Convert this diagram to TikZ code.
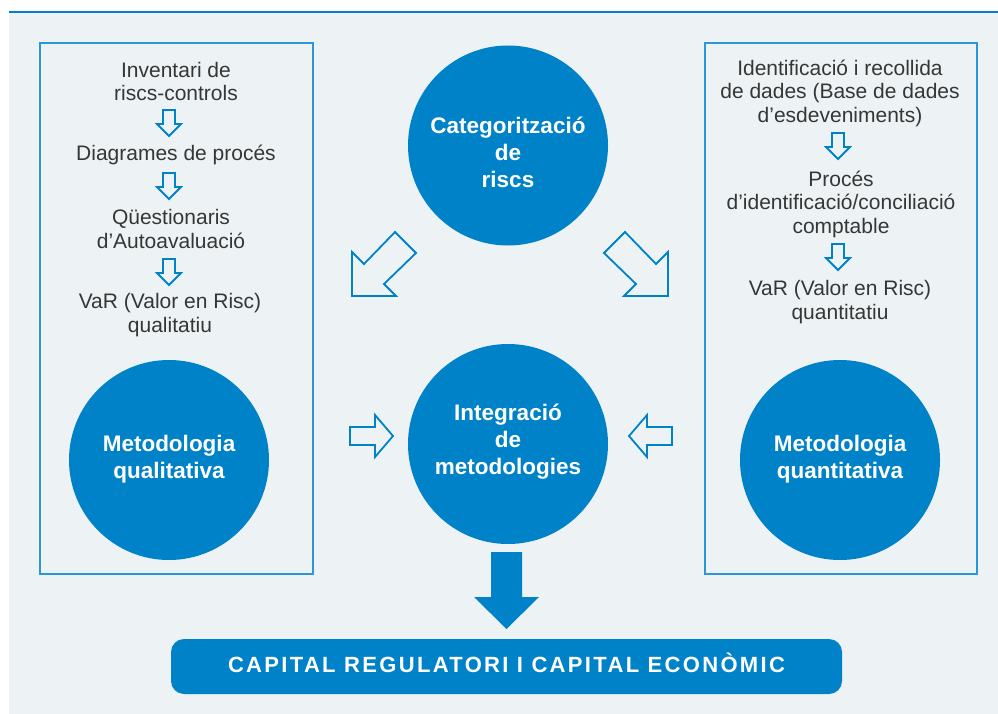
\documentclass[tikz,border=0pt]{standalone}
\usepackage{fontspec}
\setmainfont{Liberation Sans}
\newfontfamily\capfont[LetterSpace=10.6]{Liberation Sans}
\usetikzlibrary{calc}
\definecolor{bg}{HTML}{EDF3F4}
\definecolor{mainblue}{HTML}{0082C8}
\definecolor{lineblue}{HTML}{2C97D8}
\definecolor{txtgrey}{HTML}{363636}
\begin{document}
\begin{tikzpicture}[x=1pt,y=-1pt,
  circ/.style={circle, fill=mainblue, minimum size=200pt, inner sep=0pt},
  ctext/.style={text=white, font=\fontsize{22.5}{27}\selectfont\bfseries, align=center, inner sep=0pt},
  ltext/.style={text=txtgrey, font=\fontsize{21}{23.5}\selectfont, align=center, inner sep=0pt},
  panel/.style={draw=lineblue, line width=1.3pt},
  hollow/.style={draw=mainblue, line width=1.8pt, line join=miter},
  downarr/.pic={\draw[hollow] (-6,-14) -- (6,-14) -- (6,0) -- (12,0) -- (0,12) -- (-12,0) -- (-6,0) -- cycle;},
]
\useasboundingbox (0,0) rectangle (998,714);
\fill[white] (0,0) rectangle (998,714);
\fill[bg] (9,12) rectangle (998,714);
\draw[mainblue, line width=1.5pt] (9,12) -- (998,12);

% panels
\draw[panel] (40,43) rectangle (313,574);
\draw[panel] (705,43) rectangle (977,574);

% circles
\node[circ] (cat) at (508,145.5) {};
\node[circ] (int) at (508,444) {};
\node[circ] (qual) at (169,460) {};
\node[circ] (quant) at (840,460) {};
\node[ctext] (catT) at (508,152) {Categorització\\de\\riscs};
\node[ctext] (intT) at (508,442) {Integració\\de\\metodologies};
\node[ctext] (qualT) at (169,459) {Metodologia\\qualitativa};
\node[ctext] (quantT) at (840,459) {Metodologia\\quantitativa};

% left column
\node[ltext] (l1) at (176,81.5) {Inventari de\\riscs-controls};
\node[ltext] (l2) at (176,155) {Diagrames de procés};
\node[ltext] (l3) at (171,229) {Qüestionaris\\d’Autoavaluació};
\node[ltext] (l4) at (170,315) {VaR (Valor en Risc)\\qualitatiu};
\pic at (169,124) {downarr};
\pic at (169,187) {downarr};
\pic at (169,273) {downarr};

% right column
\node[ltext] (r1) at (840,93) {Identificació i recollida\\de dades (Base de dades\\d’esdeveniments)};
\node[ltext] (r2) at (841,204) {Procés\\d’identificació/conciliació\\comptable};
\node[ltext] (r3) at (840,302) {VaR (Valor en Risc)\\quantitatiu};
\pic at (838,147) {downarr};
\pic at (838,258) {downarr};

% diagonal hollow arrows
\draw[hollow] (352,296) -- (352,252) -- (364,264) -- (395,232) -- (416,253) -- (384,284) -- (396,296) -- cycle;
\draw[hollow] (668,296) -- (668,252) -- (656,264) -- (625,232) -- (604,253) -- (636,284) -- (624,296) -- cycle;

% horizontal hollow arrows
\draw[hollow] (350,427) -- (375,427) -- (375,415) -- (393,436) -- (375,457) -- (375,445) -- (350,445) -- cycle;
\draw[hollow] (672,427) -- (647,427) -- (647,415) -- (629,436) -- (647,457) -- (647,445) -- (672,445) -- cycle;

% bottom bar
\node[fill=mainblue, rounded corners=13pt, minimum width=671pt, minimum height=55pt, inner sep=0pt,
      text=white, font=\capfont\fontsize{22}{26}\selectfont\bfseries, text height=15.8pt, text depth=4pt]
  (bar) at (506.5,666.5) {CAPITAL REGULATORI I CAPITAL ECONÒMIC};

% big down arrow
\fill[mainblue] (491,552) -- (522,552) -- (522,597) -- (539,597) -- (506.5,629) -- (474,597) -- (491,597) -- cycle;
\end{tikzpicture}
\end{document}
